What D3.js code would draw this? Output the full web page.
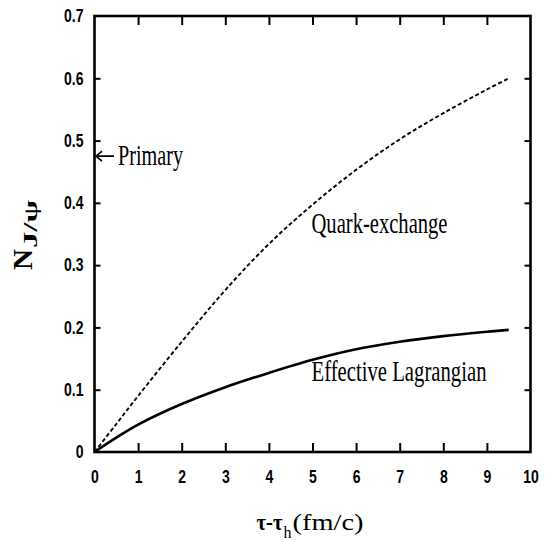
<!DOCTYPE html>
<html>
<head>
<meta charset="utf-8">
<script src="https://cdn.jsdelivr.net/npm/d3@7"></script>
<style>
  body { margin: 0; background: #fff; }
  svg { display: block; }
</style>
</head>
<body>
<div class="chart"></div>
<script>
// values
var tau = [0, 0.5, 1, 2, 3, 4, 5, 6, 7, 8, 9, 9.5],
    quarkExchange = [0, 0.045, 0.090, 0.177, 0.260, 0.334, 0.397, 0.453, 0.502, 0.544, 0.582, 0.600],
    effLagrangian = [0, 0.023, 0.044, 0.077, 0.104, 0.127, 0.148, 0.165, 0.177, 0.186, 0.193, 0.196],
    primary = 0.475;

var xTicks = [0, 1, 2, 3, 4, 5, 6, 7, 8, 9, 10],
    yTicks = [0, 0.1, 0.2, 0.3, 0.4, 0.5, 0.6, 0.7];

var width = 552, height = 540;

var x = d3.scaleLinear().domain([0, 10]).range([94.5, 530.5]);
var y = d3.scaleLinear().domain([0, 0.7]).range([452, 16]);

var svg = d3.select(".chart").append("svg")
    .attr("width", width)
    .attr("height", height);

var serif = "'Liberation Serif', 'Times New Roman', serif",
    sans = "'Liberation Sans', Arial, sans-serif",
    stretch = 1.3;

// inner tick marks on all four sides
var inX = xTicks.slice(1, -1), inY = yTicks.slice(1, -1);
function ticks(axis, tr) {
    svg.append("g").attr("transform", tr).call(axis)
        .call(function (g) { g.select(".domain").remove(); })
        .selectAll("line").attr("stroke", "#000").attr("stroke-width", 2);
}
ticks(d3.axisBottom(x).tickValues(inX).tickSize(-9).tickFormat(""), "translate(0," + y(0) + ")");
ticks(d3.axisTop(x).tickValues(inX).tickSize(-9).tickFormat(""), "translate(0," + y(0.7) + ")");
ticks(d3.axisLeft(y).tickValues(inY).tickSize(-6).tickFormat(""), "translate(" + x(0) + ",0)");
ticks(d3.axisRight(y).tickValues(inY).tickSize(-6).tickFormat(""), "translate(" + x(10) + ",0)");

// tick labels
var gx = svg.append("g").attr("transform", "translate(0," + y(0) + ")")
    .call(d3.axisBottom(x).tickValues(xTicks).tickSize(0).tickFormat(d3.format("d")));
gx.select(".domain").remove();
gx.selectAll("text")
    .attr("y", 31 / stretch).attr("dy", null)
    .attr("transform", "scale(1," + stretch + ")");

var gy = svg.append("g").attr("transform", "translate(" + x(0) + ",0)")
    .call(d3.axisLeft(y).tickValues(yTicks).tickSize(0).tickPadding(11)
        .tickFormat(function (d) { return d === 0 ? "0" : d.toFixed(1); }));
gy.select(".domain").remove();
gy.selectAll("text").attr("transform", "scale(1," + stretch + ")")
    .attr("y", 0);

svg.selectAll(".tick text")
    .attr("font-family", sans)
    .attr("font-weight", "bold")
    .attr("font-size", 14)
    .attr("fill", "#000");

// curves
var line = d3.line()
    .x(function (d, i) { return x(tau[i]); })
    .y(function (d) { return y(d); })
    .curve(d3.curveCatmullRom.alpha(0.5));

svg.append("path")
    .datum(quarkExchange)
    .attr("d", line)
    .attr("fill", "none")
    .attr("stroke", "#000")
    .attr("stroke-width", 1.9)
    .attr("stroke-dasharray", "4,2.5");

svg.append("path")
    .datum(effLagrangian)
    .attr("d", line)
    .attr("fill", "none")
    .attr("stroke", "#000")
    .attr("stroke-width", 2.6);

// frame
svg.append("rect")
    .attr("x", x(0)).attr("y", y(0.7))
    .attr("width", x(10) - x(0)).attr("height", y(0) - y(0.7))
    .attr("fill", "none")
    .attr("stroke", "#000")
    .attr("stroke-width", 2.6);

// labels
function label(txt, px, py, size, len) {
    return svg.append("text")
        .attr("x", px).attr("y", py)
        .attr("font-family", serif)
        .attr("font-size", size)
        .attr("textLength", len)
        .attr("lengthAdjust", "spacingAndGlyphs")
        .text(txt);
}

label("Quark-exchange", 311.5, 233, 30, 136);
label("Effective Lagrangian", 311.5, 381, 30, 175);

// primary arrow
var ay = y(primary), ax = x(0) + 1.5;
svg.append("path")
    .attr("d", "M" + (ax + 18) + "," + ay + "H" + ax + "M" + (ax + 6) + "," + (ay - 5) + "L" + ax + "," + ay + "L" + (ax + 6) + "," + (ay + 5))
    .attr("fill", "none")
    .attr("stroke", "#000")
    .attr("stroke-width", 1.6);
label("Primary", 118, ay + 8.5, 30, 65);

// x title, one text with subscript
var xt = svg.append("text")
    .attr("x", 256.5).attr("y", 530)
    .attr("font-family", serif)
    .attr("font-size", 24);
xt.append("tspan").attr("font-weight", "bold")
    .attr("textLength", 26).attr("lengthAdjust", "spacingAndGlyphs").text("τ-τ");
xt.append("tspan").attr("font-size", 16).attr("dy", 8).attr("dx", 1).text("h");
xt.append("tspan").attr("dy", -8).attr("dx", 1)
    .attr("textLength", 71).attr("lengthAdjust", "spacingAndGlyphs").text("(fm/c)");

// y title
svg.append("text")
    .attr("transform", "translate(32,270) rotate(-90)")
    .attr("font-family", serif)
    .attr("font-weight", "bold")
    .attr("font-size", 28)
    .attr("textLength", 21)
    .attr("lengthAdjust", "spacingAndGlyphs")
    .text("N");
svg.append("text")
    .attr("transform", "translate(37,248) rotate(-90)")
    .attr("font-family", serif)
    .attr("font-weight", "bold")
    .attr("font-size", 18)
    .attr("textLength", 48)
    .attr("lengthAdjust", "spacingAndGlyphs")
    .text("J/ψ");
</script>
</body>
</html>
